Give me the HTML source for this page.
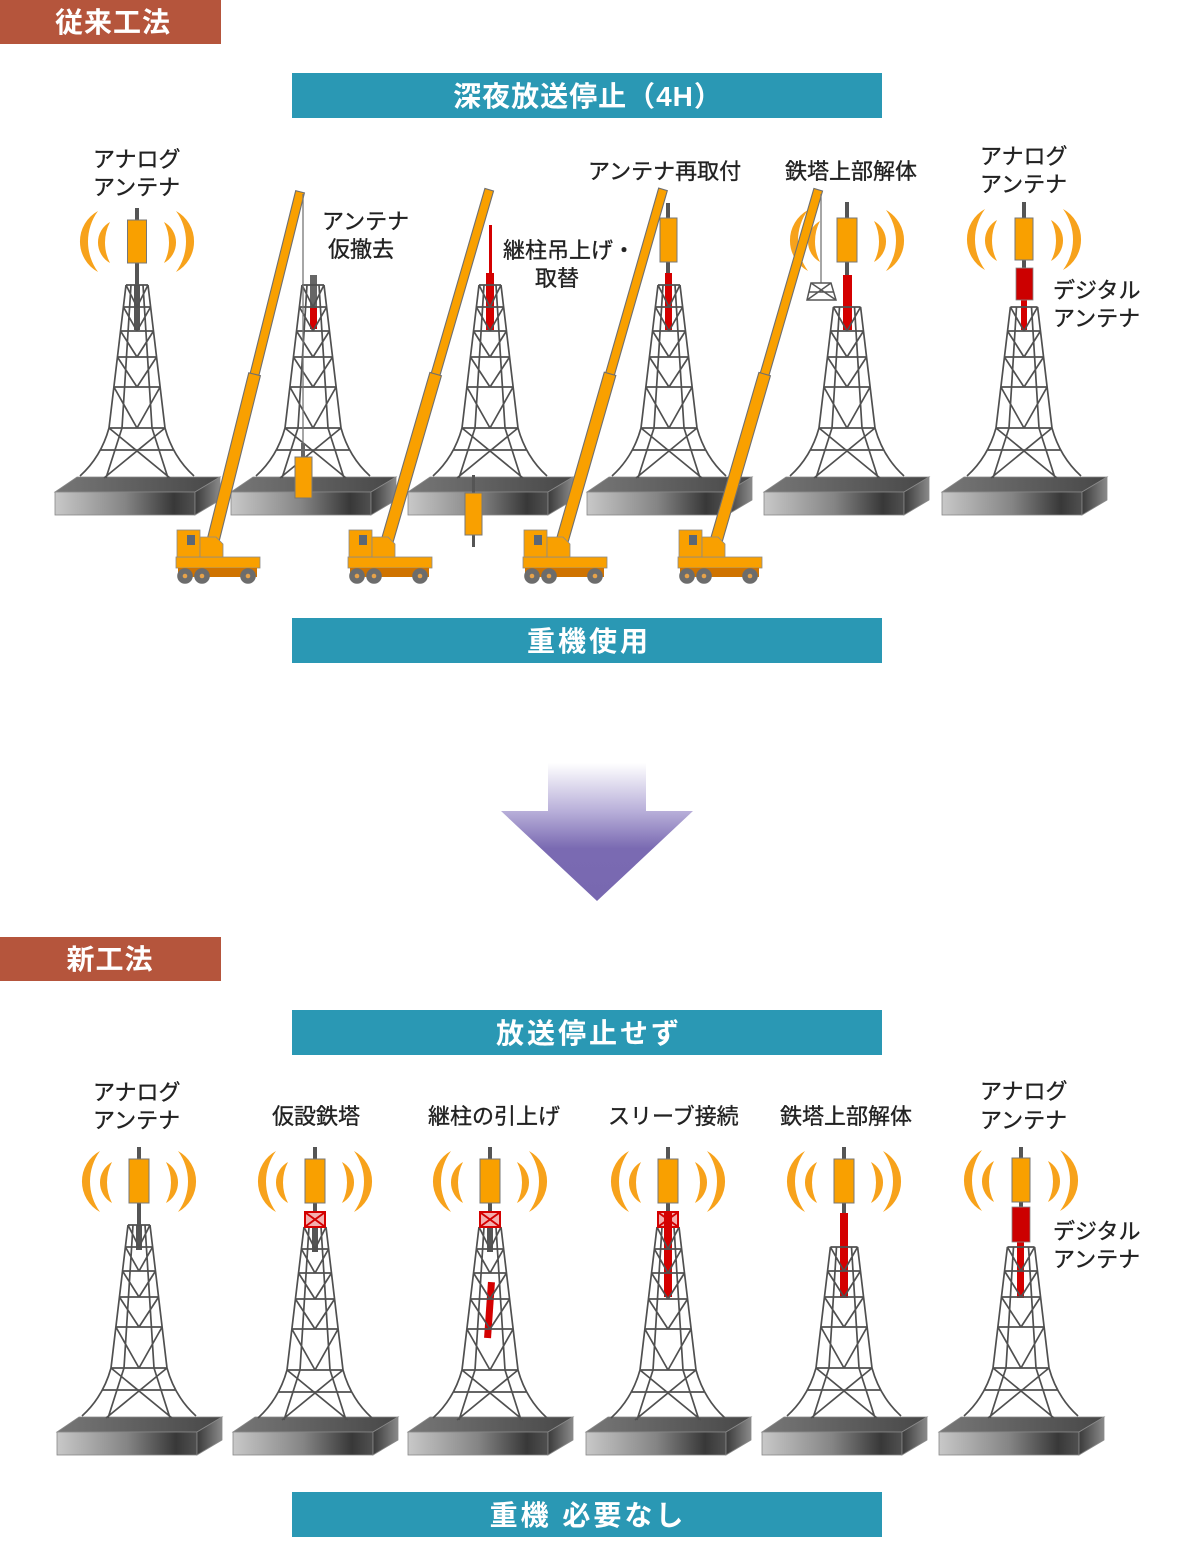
<!DOCTYPE html>
<html><head><meta charset="utf-8"><style>
html,body{margin:0;padding:0;background:#fff;}
svg{display:block;}
.lb{font-family:'Liberation Sans','Noto Sans CJK JP',sans-serif;font-size:22px;fill:#222;stroke:#222;stroke-width:0.35px;}
.bn{font-family:'Liberation Sans','Noto Sans CJK JP',sans-serif;font-size:28px;font-weight:bold;fill:#fff;}
</style></head><body>
<svg width="1194" height="1568" viewBox="0 0 1194 1568" xmlns="http://www.w3.org/2000/svg">
<defs>
<linearGradient id="gF" x1="0" y1="0" x2="1" y2="0">
<stop offset="0" stop-color="#c8c8c8"/><stop offset="0.5" stop-color="#858585"/><stop offset="0.85" stop-color="#383838"/><stop offset="1" stop-color="#505050"/>
</linearGradient>
<linearGradient id="gT" x1="0" y1="0" x2="1" y2="0">
<stop offset="0" stop-color="#777"/><stop offset="1" stop-color="#474747"/>
</linearGradient>
<linearGradient id="gR" x1="0" y1="0" x2="1" y2="0">
<stop offset="0" stop-color="#3a3a3a"/><stop offset="1" stop-color="#8a8a8a"/>
</linearGradient>
<linearGradient id="gA" gradientUnits="userSpaceOnUse" x1="0" y1="763" x2="0" y2="901">
<stop offset="0" stop-color="#ffffff"/><stop offset="0.35" stop-color="#b8afd9"/><stop offset="0.62" stop-color="#7a6ab2"/><stop offset="1" stop-color="#7868b0"/>
</linearGradient>

<g id="slab">
<polygon points="-82,207 -60,192 83,192 58,207" fill="url(#gT)" stroke="#888" stroke-width="0.8"/>
<rect x="-82" y="207" width="140" height="23" fill="url(#gF)" stroke="#888" stroke-width="0.8"/>
<polygon points="58,207 83,192 83,215 58,230" fill="url(#gR)" stroke="#888" stroke-width="0.8"/>
</g>

<path id="latFull" fill="none" stroke="#505050" stroke-width="1.7" stroke-linejoin="round" d="M-11,0 L-28,143 Q-36,172 -57,191 M11,0 L28,143 Q36,172 57,191 M-11,0 H11 M-13.6,22 H13.6 M-16.5,46 H16.5 M-19.6,72 H19.6 M-23.1,102 H23.1 M-28,143 H28 M-37,165 H37 M-11,0 L0,22 L11,0 M-13.6,22 L0,46 L13.6,22 M-16.5,46 L0,72 L16.5,46 M-19.6,72 L0,102 L19.6,72 M-23.1,102 L0,143 L23.1,102 M-6,0 L-15,143 L-31,193 M6,0 L15,143 L31,193 M-28,143 L33,193 M28,143 L-33,193"/>
<path id="latShort" fill="none" stroke="#505050" stroke-width="1.7" stroke-linejoin="round" d="M-13.6,22 L-28,143 Q-36,172 -57,191 M13.6,22 L28,143 Q36,172 57,191 M-13.6,22 H13.6 M-16.5,46 H16.5 M-19.6,72 H19.6 M-23.1,102 H23.1 M-28,143 H28 M-37,165 H37 M-13.6,22 L0,46 L13.6,22 M-16.5,46 L0,72 L16.5,46 M-19.6,72 L0,102 L19.6,72 M-23.1,102 L0,143 L23.1,102 M-7.5,22 L-15,143 L-31,193 M7.5,22 L15,143 L31,193 M-28,143 L33,193 M28,143 L-33,193"/>

<g id="waveR" fill="#f7a21b">
<path d="M39,-74 A34.8,34.8 0 0 1 39,-13 A51.5,51.5 0 0 0 39,-74 Z"/>
<path d="M27,-63 A23.5,23.5 0 0 1 27,-22 A44.5,44.5 0 0 0 27,-63 Z"/>
</g>
<g id="waves"><use href="#waveR"/><use href="#waveR" transform="scale(-1,1)"/></g>

<g id="crane">
<rect x="0" y="0" width="84" height="11" fill="#f9a000" stroke="#8a8a8a" stroke-width="0.8"/>
<rect x="2" y="11" width="79" height="9" fill="#cf7300"/>
<circle cx="9" cy="19" r="7.8" fill="#6c6c6c"/><circle cx="26" cy="19" r="7.8" fill="#6c6c6c"/><circle cx="72" cy="19" r="7.8" fill="#6c6c6c"/>
<circle cx="9" cy="19" r="2.3" fill="#e6a24a"/><circle cx="26" cy="19" r="2.3" fill="#e6a24a"/><circle cx="72" cy="19" r="2.3" fill="#e6a24a"/>
<rect x="1" y="-27" width="23" height="27" fill="#f9a000" stroke="#8a8a8a" stroke-width="0.8"/>
<rect x="11" y="-22" width="8" height="10" fill="#5b6775"/>
<polygon points="24,-20 40,-20 47,-13 47,0 24,0" fill="#f9a000" stroke="#8a8a8a" stroke-width="0.8"/>
</g>
<g id="boomA">
<rect x="-4.5" y="-364" width="9" height="194" fill="#f9a000" stroke="#6f6f6f" stroke-width="1.1"/>
<rect x="-6" y="-176" width="12" height="182" fill="#f9a000" stroke="#6f6f6f" stroke-width="1.1"/>
</g>
<g id="boomB">
<rect x="-4.5" y="-370" width="9" height="200" fill="#f9a000" stroke="#6f6f6f" stroke-width="1.1"/>
<rect x="-6" y="-178" width="12" height="184" fill="#f9a000" stroke="#6f6f6f" stroke-width="1.1"/>
</g>
</defs>

<!-- ===== Header blocks ===== -->
<rect x="0" y="0" width="221" height="44" fill="#b5553c"/>
<text x="113" y="32" text-anchor="middle" class="bn" font-size="28" style="letter-spacing:1px">従来工法</text>
<rect x="292" y="73" width="590" height="45" fill="#2a98b4"/>
<text x="588" y="106" text-anchor="middle" class="bn" style="letter-spacing:1px">深夜放送停止（4H）</text>

<!-- ===== Top row slabs ===== -->
<use href="#slab" transform="translate(137,285)"/>
<use href="#slab" transform="translate(313,285)"/>
<use href="#slab" transform="translate(490,285)"/>
<use href="#slab" transform="translate(669,285)"/>
<use href="#slab" transform="translate(846,285)"/>
<use href="#slab" transform="translate(1024,285)"/>

<!-- top tower 1 -->
<rect x="134" y="285" width="6" height="45" fill="#555"/>
<use href="#latFull" transform="translate(137,285)"/>
<rect x="135" y="208" width="4" height="77" fill="#555"/>
<rect x="127.5" y="220" width="19" height="43" fill="#f9a000" stroke="#777" stroke-width="1"/>
<use href="#waves" transform="translate(137,285)"/>

<!-- top tower 2 -->
<rect x="310" y="275" width="7" height="33" fill="#666"/>
<rect x="310" y="308" width="7" height="21" fill="#d40000"/>
<use href="#latFull" transform="translate(313,285)"/>

<!-- top tower 3 -->
<rect x="489" y="225" width="3" height="48" fill="#d40000"/>
<rect x="486" y="273" width="8" height="57" fill="#d40000"/>
<use href="#latFull" transform="translate(490,285)"/>

<!-- top tower 4 -->
<rect x="665" y="273" width="7" height="57" fill="#d40000"/>
<use href="#latFull" transform="translate(669,285)"/>
<rect x="666" y="203" width="4" height="15" fill="#555"/>
<rect x="666" y="262" width="4" height="11" fill="#555"/>
<rect x="660" y="218" width="17" height="44" fill="#f9a000" stroke="#777" stroke-width="1"/>

<!-- top tower 5 -->
<rect x="843" y="275" width="9" height="55" fill="#d40000"/>
<use href="#latShort" transform="translate(847,285)"/>
<rect x="845" y="202" width="4" height="16" fill="#555"/>
<rect x="845" y="262" width="4" height="13" fill="#555"/>
<rect x="837" y="218" width="20" height="44" fill="#f9a000" stroke="#777" stroke-width="1"/>
<use href="#waves" transform="translate(847,284)"/>

<!-- top tower 6 -->
<rect x="1021" y="300" width="6" height="30" fill="#d40000"/>
<use href="#latShort" transform="translate(1024,285)"/>
<rect x="1022" y="202" width="4" height="16" fill="#555"/>
<rect x="1022" y="260" width="4" height="8" fill="#555"/>
<rect x="1015" y="218" width="18" height="42" fill="#f9a000" stroke="#777" stroke-width="1"/>
<rect x="1016" y="268" width="17" height="32" fill="#cc0000" stroke="#888" stroke-width="0.8"/>
<use href="#waves" transform="translate(1024,283)"/>

<!-- lowered antenna at slab 3 -->
<rect x="472" y="475" width="3" height="72" fill="#555"/>
<rect x="465" y="493" width="17" height="42" fill="#f9a000" stroke="#777" stroke-width="1"/>

<!-- top labels -->
<text class="lb" x="93" y="167">アナログ</text>
<text class="lb" x="93" y="195">アンテナ</text>
<text class="lb" x="322" y="229">アンテナ</text>
<text class="lb" x="328" y="257">仮撤去</text>
<text class="lb" x="503" y="258">継柱吊上げ・</text>
<text class="lb" x="535" y="286">取替</text>
<text class="lb" x="588" y="179">アンテナ再取付</text>
<text class="lb" x="785" y="179">鉄塔上部解体</text>
<text class="lb" x="980" y="164">アナログ</text>
<text class="lb" x="980" y="192">アンテナ</text>
<text class="lb" x="1053" y="298">デジタル</text>
<text class="lb" x="1053" y="326">アンテナ</text>

<!-- cranes -->
<use href="#boomA" transform="translate(212,545) rotate(14)"/>
<use href="#crane" transform="translate(176,557)"/>
<use href="#boomB" transform="translate(386,545) rotate(16.2)"/>
<use href="#crane" transform="translate(348,557)"/>
<use href="#boomB" transform="translate(561,545) rotate(16)"/>
<use href="#crane" transform="translate(523,557)"/>
<use href="#boomB" transform="translate(715,545) rotate(16.2)"/>
<use href="#crane" transform="translate(678,557)"/>

<!-- crane 1 hanging antenna -->
<line x1="303" y1="194" x2="303" y2="447" stroke="#777" stroke-width="1.3"/>
<rect x="301" y="443" width="4" height="14" fill="#666"/>
<rect x="295" y="457" width="17" height="41" fill="#f9a000" stroke="#777" stroke-width="1"/>

<!-- crane 4 hanging lattice piece -->
<line x1="821" y1="194" x2="821" y2="283" stroke="#777" stroke-width="1.3"/>
<g fill="none" stroke="#555" stroke-width="1.5">
<polygon points="811,283 831,283 836,300 807,300" fill="#fff"/>
<path d="M811,283 L836,300 M831,283 L807,300 M809,292 H834"/>
</g>

<!-- banner 2 -->
<rect x="292" y="618" width="590" height="45" fill="#2a98b4"/>
<text x="589" y="651" text-anchor="middle" class="bn" style="letter-spacing:3px">重機使用</text>

<!-- arrow -->
<polygon points="548,763 646,763 646,811 693,811 597,901 501,811 548,811" fill="url(#gA)"/>

<!-- ===== New method ===== -->
<rect x="0" y="937" width="221" height="44" fill="#b5553c"/>
<text x="110" y="969" text-anchor="middle" class="bn" font-size="28" style="letter-spacing:1px">新工法</text>
<rect x="292" y="1010" width="590" height="45" fill="#2a98b4"/>
<text x="589" y="1043" text-anchor="middle" class="bn" style="letter-spacing:3px">放送停止せず</text>

<!-- bottom slabs -->
<use href="#slab" transform="translate(139,1225)"/>
<use href="#slab" transform="translate(315,1225)"/>
<use href="#slab" transform="translate(490,1225)"/>
<use href="#slab" transform="translate(668,1225)"/>
<use href="#slab" transform="translate(844,1225)"/>
<use href="#slab" transform="translate(1021,1225)"/>

<!-- bottom tower 1 -->
<rect x="136" y="1225" width="6" height="25" fill="#555"/>
<use href="#latFull" transform="translate(139,1225)"/>
<rect x="137" y="1147" width="4" height="78" fill="#555"/>
<rect x="129" y="1159" width="20" height="44" fill="#f9a000" stroke="#777" stroke-width="1"/>
<use href="#waves" transform="translate(139,1225)"/>

<!-- bottom tower 2 -->
<rect x="312" y="1227" width="6" height="25" fill="#555"/>
<use href="#latFull" transform="translate(315,1227)"/>
<rect x="313" y="1147" width="4" height="65" fill="#555"/>
<rect x="305" y="1159" width="20" height="44" fill="#f9a000" stroke="#777" stroke-width="1"/>
<rect x="305" y="1212" width="20" height="15" fill="#f3b0b0" stroke="#d40000" stroke-width="2"/>
<path d="M306,1213 L324,1226 M324,1213 L306,1226" stroke="#d40000" stroke-width="2"/>
<use href="#waves" transform="translate(315,1225)"/>

<!-- bottom tower 3 -->
<rect x="487" y="1227" width="6" height="25" fill="#555"/>
<rect x="486" y="1282" width="7" height="56" fill="#d40000" transform="rotate(4 489 1310)"/>
<use href="#latFull" transform="translate(490,1227)"/>
<rect x="488" y="1147" width="4" height="65" fill="#555"/>
<rect x="480" y="1159" width="20" height="44" fill="#f9a000" stroke="#777" stroke-width="1"/>
<rect x="480" y="1212" width="20" height="15" fill="#f3b0b0" stroke="#d40000" stroke-width="2"/>
<path d="M481,1213 L499,1226 M499,1213 L481,1226" stroke="#d40000" stroke-width="2"/>
<use href="#waves" transform="translate(490,1225)"/>

<!-- bottom tower 4 -->
<rect x="664" y="1212" width="8" height="85" fill="#d40000"/>
<use href="#latFull" transform="translate(668,1227)"/>
<rect x="666" y="1147" width="4" height="65" fill="#555"/>
<rect x="658" y="1159" width="20" height="44" fill="#f9a000" stroke="#777" stroke-width="1"/>
<rect x="658" y="1212" width="20" height="15" fill="#f3b0b0" stroke="#d40000" stroke-width="2"/>
<path d="M659,1213 L677,1226 M677,1213 L659,1226" stroke="#d40000" stroke-width="2"/>
<rect x="664" y="1212" width="8" height="15" fill="#d40000"/>
<use href="#waves" transform="translate(668,1225)"/>

<!-- bottom tower 5 -->
<rect x="840" y="1213" width="8" height="85" fill="#d40000"/>
<use href="#latShort" transform="translate(844,1225)"/>
<rect x="842" y="1147" width="4" height="12" fill="#555"/>
<rect x="842" y="1203" width="4" height="10" fill="#555"/>
<rect x="834" y="1159" width="20" height="44" fill="#f9a000" stroke="#777" stroke-width="1"/>
<use href="#waves" transform="translate(844,1225)"/>

<!-- bottom tower 6 -->
<rect x="1017" y="1242" width="7" height="56" fill="#d40000"/>
<use href="#latShort" transform="translate(1021,1225)"/>
<rect x="1019" y="1147" width="4" height="11" fill="#555"/>
<rect x="1019" y="1202" width="4" height="5" fill="#555"/>
<rect x="1012" y="1158" width="18" height="44" fill="#f9a000" stroke="#777" stroke-width="1"/>
<rect x="1012" y="1207" width="18" height="35" fill="#cc0000" stroke="#888" stroke-width="0.8"/>
<use href="#waves" transform="translate(1021,1224)"/>

<!-- bottom labels -->
<text class="lb" x="93" y="1100">アナログ</text>
<text class="lb" x="93" y="1128">アンテナ</text>
<text class="lb" x="272" y="1124">仮設鉄塔</text>
<text class="lb" x="428" y="1124">継柱の引上げ</text>
<text class="lb" x="608" y="1124">スリーブ接続</text>
<text class="lb" x="780" y="1124">鉄塔上部解体</text>
<text class="lb" x="980" y="1099">アナログ</text>
<text class="lb" x="980" y="1128">アンテナ</text>
<text class="lb" x="1053" y="1239">デジタル</text>
<text class="lb" x="1053" y="1267">アンテナ</text>

<!-- banner 4 -->
<rect x="292" y="1492" width="590" height="45" fill="#2a98b4"/>
<text x="588" y="1525" text-anchor="middle" class="bn" style="letter-spacing:3px">重機 必要なし</text>
</svg>
</body></html>
